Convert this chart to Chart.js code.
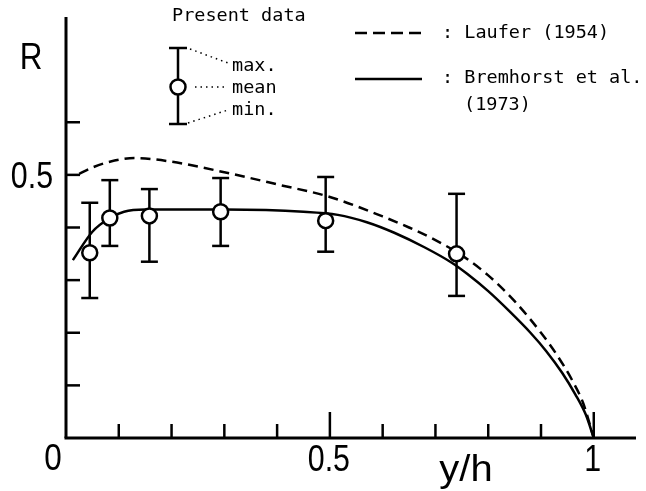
<!DOCTYPE html>
<html>
<head>
<meta charset="utf-8">
<script src="https://cdn.jsdelivr.net/npm/chart.js@4.4.1/dist/chart.umd.min.js"></script>
<style>
  body { margin: 0; background: #fff; }
  canvas { display: block; }
</style>
</head>
<body>
<canvas id="chart" width="646" height="491"></canvas>
<script>
// present data: mean value with max / min spread at each station
const stationX = [0.045, 0.083, 0.158, 0.293, 0.492, 0.740];
const meanR = [0.352, 0.418, 0.422, 0.430, 0.413, 0.350];
const maxR = [0.447, 0.490, 0.473, 0.494, 0.496, 0.464];
const minR = [0.266, 0.365, 0.335, 0.365, 0.354, 0.270];

// Laufer (1954), dashed
const lauferX = [0.025, 0.05, 0.083, 0.13, 0.2, 0.3, 0.4, 0.5, 0.6, 0.65, 0.7, 0.75, 0.8, 0.85, 0.9, 0.93, 0.96, 0.98, 1.0];
const lauferR = [0.502, 0.514, 0.525, 0.532, 0.525, 0.505, 0.482, 0.458, 0.421, 0.400, 0.376, 0.347, 0.309, 0.260, 0.200, 0.158, 0.108, 0.066, 0.0];

// Bremhorst et al. (1973), solid
const bremX = [0.013, 0.05, 0.083, 0.11, 0.15, 0.30, 0.45, 0.515, 0.57, 0.622, 0.68, 0.731, 0.76, 0.80, 0.84, 0.88, 0.91, 0.94, 0.965, 0.985, 1.0];
const bremR = [0.338, 0.392, 0.418, 0.430, 0.434, 0.434, 0.430, 0.424, 0.410, 0.390, 0.362, 0.333, 0.312, 0.279, 0.241, 0.200, 0.165, 0.124, 0.083, 0.044, 0.0];

// axis ticks and labels
const xTicks = [0.1, 0.2, 0.3, 0.4, 0.5, 0.6, 0.7, 0.8, 0.9, 1.0];
const xMajor = [0.5, 1.0];
const xTickLabels = ['0.5', '1'];
const yTicks = [0.1, 0.2, 0.3, 0.4, 0.5, 0.6];
const yTickValues = [0.5];
const yTickLabels = ['0.5'];
const originLabel = '0';
const xTitle = 'y/h';
const yTitle = 'R';

const bigFont = '37px "Liberation Sans", Arial, sans-serif';
const titleFont = '37px "Liberation Sans", Arial, sans-serif';
const monoFont = '18.5px "DejaVu Sans Mono", monospace';

function toPoints(xs, ys) {
    return xs.map((x, i) => ({ x: x, y: ys[i] }));
}

// squeeze < 1 narrows the glyphs, the old plot uses a condensed face
function drawText(ctx, str, x, y, font, align, squeeze) {
    const sx = squeeze || 1;
    ctx.save();
    ctx.font = font;
    ctx.textAlign = align || 'left';
    ctx.textBaseline = 'alphabetic';
    ctx.translate(x, y);
    ctx.scale(sx, 1);
    ctx.fillText(str, 0, 0);
    ctx.restore();
}

function line(ctx, x1, y1, x2, y2) {
    ctx.beginPath();
    ctx.moveTo(x1, y1);
    ctx.lineTo(x2, y2);
    ctx.stroke();
}

const errorBars = {
    id: 'errorBars',
    beforeDatasetsDraw(chart) {
        const { ctx, scales: { x, y } } = chart;
        ctx.save();
        ctx.strokeStyle = '#000';
        ctx.lineWidth = 2.5;
        stationX.forEach((sx, i) => {
            const px = x.getPixelForValue(sx);
            const top = y.getPixelForValue(maxR[i]);
            const bot = y.getPixelForValue(minR[i]);
            line(ctx, px, top, px, bot);
            line(ctx, px - 8.5, top, px + 8.5, top);
            line(ctx, px - 8.5, bot, px + 8.5, bot);
        });
        ctx.restore();
    }
};

const axesAndKey = {
    id: 'axesAndKey',
    afterDraw(chart) {
        const { ctx, scales: { x, y } } = chart;
        const x0 = x.getPixelForValue(0);
        const y0 = y.getPixelForValue(0);
        ctx.save();
        ctx.strokeStyle = '#000';
        ctx.fillStyle = '#000';

        // axis lines
        ctx.lineWidth = 3;
        line(ctx, x0, y0, x0, y.getPixelForValue(y.max));
        line(ctx, x0 - 1.5, y0, x.getPixelForValue(x.max), y0);

        // inward ticks
        ctx.lineWidth = 2.5;
        xTicks.forEach(v => {
            const px = x.getPixelForValue(v);
            const len = xMajor.includes(v) ? 26 : 14;
            line(ctx, px, y0, px, y0 - len);
        });
        yTicks.forEach(v => {
            const py = y.getPixelForValue(v);
            line(ctx, x0, py, x0 + 14, py);
        });

        // tick labels
        drawText(ctx, originLabel, x0 - 13, y0 + 32, bigFont, 'center', 0.85);
        xMajor.forEach((v, i) => {
            drawText(ctx, xTickLabels[i], x.getPixelForValue(v) - 1, y0 + 33, bigFont, 'center', 0.82);
        });
        yTickValues.forEach((v, i) => {
            drawText(ctx, yTickLabels[i], x0 - 13, y.getPixelForValue(v) + 13, bigFont, 'right', 0.82);
        });

        // axis titles
        drawText(ctx, yTitle, 31, 69, titleFont, 'center', 0.85);
        drawText(ctx, xTitle, 466, 481, titleFont, 'center', 1.08);

        // key: present data
        drawText(ctx, 'Present data', 172, 21, monoFont);
        const kx = 178;
        ctx.lineWidth = 2.5;
        line(ctx, kx, 48, kx, 124);
        line(ctx, kx - 9, 48, kx + 9, 48);
        line(ctx, kx - 9, 124, kx + 9, 124);
        ctx.beginPath();
        ctx.arc(kx, 87, 7.5, 0, Math.PI * 2);
        ctx.fillStyle = '#fff';
        ctx.fill();
        ctx.stroke();
        ctx.fillStyle = '#000';

        ctx.lineWidth = 1.5;
        ctx.setLineDash([1.5, 4]);
        line(ctx, 190, 49, 228, 63);
        line(ctx, 195, 87, 228, 87);
        line(ctx, 188, 123, 228, 110);
        ctx.setLineDash([]);
        drawText(ctx, 'max.', 232, 71, monoFont);
        drawText(ctx, 'mean', 232, 93, monoFont);
        drawText(ctx, 'min.', 232, 115, monoFont);

        // key: reference curves
        ctx.lineWidth = 2.5;
        ctx.setLineDash([12, 6]);
        line(ctx, 355, 33, 422, 33);
        ctx.setLineDash([]);
        line(ctx, 355, 79, 422, 79);
        drawText(ctx, ': Laufer (1954)', 442, 38, monoFont);
        drawText(ctx, ': Bremhorst et al.', 442, 83, monoFont);
        drawText(ctx, '(1973)', 464, 110, monoFont);

        ctx.restore();
    }
};

new Chart(document.getElementById('chart'), {
    type: 'scatter',
    data: {
        datasets: [
            {
                label: 'Present data',
                data: toPoints(stationX, meanR),
                pointRadius: 7.5,
                pointBorderWidth: 2.5,
                pointBackgroundColor: '#fff',
                pointBorderColor: '#000',
                showLine: false,
                order: 0
            },
            {
                label: 'Laufer (1954)',
                data: toPoints(lauferX, lauferR),
                showLine: true,
                pointRadius: 0,
                borderColor: '#000',
                borderWidth: 2.5,
                borderDash: [10, 6],
                cubicInterpolationMode: 'monotone',
                order: 1
            },
            {
                label: 'Bremhorst et al. (1973)',
                data: toPoints(bremX, bremR),
                showLine: true,
                pointRadius: 0,
                borderColor: '#000',
                borderWidth: 2.5,
                cubicInterpolationMode: 'monotone',
                order: 1
            }
        ]
    },
    options: {
        responsive: false,
        animation: false,
        devicePixelRatio: 1,
        layout: { padding: { left: 66, right: 5, top: 17, bottom: 53 } },
        scales: {
            x: { type: 'linear', min: 0, max: 1.08, display: false },
            y: { type: 'linear', min: 0, max: 0.8, display: false }
        },
        plugins: {
            legend: { display: false },
            tooltip: { enabled: false }
        }
    },
    plugins: [errorBars, axesAndKey]
});
</script>
</body>
</html>
